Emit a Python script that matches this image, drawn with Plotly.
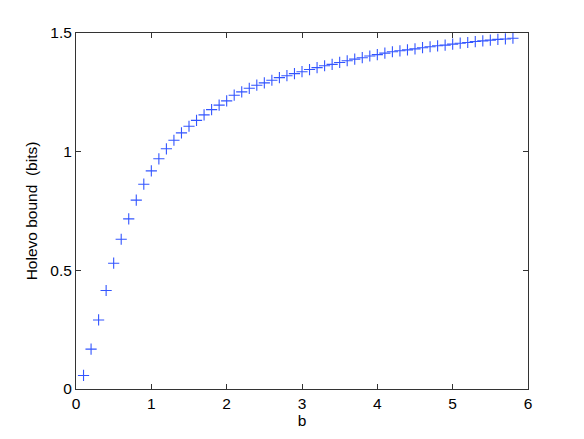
import plotly.graph_objects as go

b_values = [0.1, 0.2, 0.3, 0.4, 0.5, 0.6, 0.7, 0.8, 0.9, 1.0,
            1.1, 1.2, 1.3, 1.4, 1.5, 1.6, 1.7, 1.8, 1.9, 2.0,
            2.1, 2.2, 2.3, 2.4, 2.5, 2.6, 2.7, 2.8, 2.9, 3.0,
            3.1, 3.2, 3.3, 3.4, 3.5, 3.6, 3.7, 3.8, 3.9, 4.0,
            4.1, 4.2, 4.3, 4.4, 4.5, 4.6, 4.7, 4.8, 4.9, 5.0,
            5.1, 5.2, 5.3, 5.4, 5.5, 5.6, 5.7, 5.8]
holevo_bits = [0.057, 0.168, 0.291, 0.415, 0.530, 0.631, 0.717, 0.796, 0.863, 0.919,
               0.970, 1.012, 1.048, 1.079, 1.107, 1.132, 1.155, 1.177, 1.196, 1.214,
               1.238, 1.252, 1.267, 1.280, 1.290, 1.301, 1.312, 1.320, 1.329, 1.337,
               1.346, 1.354, 1.362, 1.368, 1.376, 1.383, 1.390, 1.396, 1.403, 1.409,
               1.415, 1.421, 1.425, 1.429, 1.433, 1.438, 1.442, 1.446, 1.449, 1.453,
               1.457, 1.460, 1.464, 1.467, 1.470, 1.473, 1.475, 1.478]
x_ticks = [0, 1, 2, 3, 4, 5, 6]
y_ticks = [0, 0.5, 1, 1.5]
y_tick_text = ["0", "0.5", "1", "1.5"]

fig = go.Figure()
fig.add_trace(go.Scatter(
    x=b_values, y=holevo_bits, mode="markers",
    marker=dict(symbol="cross-thin", size=8, line=dict(color="#3355ff", width=1.1)),
    showlegend=False,
))

axis_common = dict(
    showline=True, linecolor="#333333", linewidth=1, mirror="ticks",
    ticks="inside", ticklen=5, tickcolor="#333333", tickwidth=1,
    showgrid=False, zeroline=False, automargin=False,
    tickfont=dict(family="Liberation Sans, Arial, sans-serif", size=15.5, color="#000000"),
)

fig.update_layout(
    width=576, height=431,
    margin=dict(l=68, r=56, t=25, b=50),
    paper_bgcolor="white", plot_bgcolor="white",
    font=dict(family="Liberation Sans, Arial, sans-serif", size=15.5, color="#000000"),
    xaxis=dict(range=[0, 6], tickvals=x_ticks, ticktext=[str(t) for t in x_ticks],
               title=dict(text="b", standoff=2, font=dict(size=15.5)), **axis_common),
    yaxis=dict(range=[0, 1.5], tickvals=y_ticks, ticktext=y_tick_text,
               title=dict(text="Holevo bound  (bits)", standoff=8, font=dict(size=15.5)), **axis_common),
)

fig.write_html("out.html")
